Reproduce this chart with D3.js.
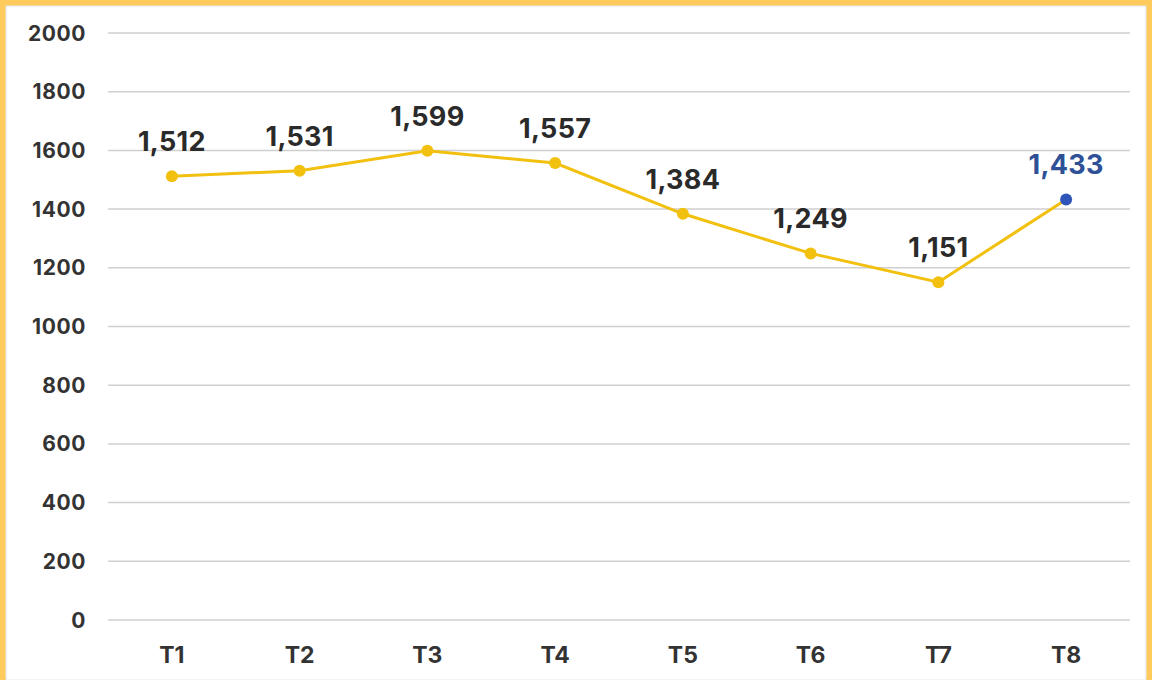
<!DOCTYPE html>
<html>
<head>
<meta charset="utf-8">
<script src="https://cdn.jsdelivr.net/npm/d3@7"></script>
<style>
  html, body { margin: 0; padding: 0; background: #fff; }
  svg { display: block; font-family: Inter, "Noto Sans", sans-serif; }
</style>
</head>
<body>
<div id="chart"></div>
<script>
// line chart T1..T8, last point highlighted
const categories = ['T1', 'T2', 'T3', 'T4', 'T5', 'T6', 'T7', 'T8'];
const values = [1512, 1531, 1599, 1557, 1384, 1249, 1151, 1433];
const yTicks = [0, 200, 400, 600, 800, 1000, 1200, 1400, 1600, 1800, 2000];

const width = 1152, height = 680;
const margin = { top: 33, right: 22, bottom: 60, left: 108 };

const svg = d3.select('#chart').append('svg')
  .attr('width', width).attr('height', height);

// frame
svg.append('rect').attr('x', 0).attr('y', 0).attr('width', width).attr('height', height).attr('fill', '#FFCB5C');
svg.append('rect').attr('x', 6).attr('y', 6).attr('width', width - 12).attr('height', height - 6)
  .attr('fill', '#fff').attr('stroke', '#e6e6e6').attr('stroke-width', 1);

const x = d3.scalePoint()
  .domain(categories)
  .range([margin.left, width - margin.right])
  .padding(0.5);

const y = d3.scaleLinear()
  .domain([0, 2000])
  .range([height - margin.bottom, margin.top]);

// grid
svg.append('g')
  .selectAll('line')
  .data(yTicks)
  .enter().append('line')
  .attr('x1', margin.left).attr('x2', width - margin.right)
  .attr('y1', d => y(d)).attr('y2', d => y(d))
  .attr('stroke', '#cfcfcf').attr('stroke-width', 1.5);

// y labels
svg.append('g')
  .selectAll('text')
  .data(yTicks)
  .enter().append('text')
  .attr('x', 86)
  .attr('y', d => y(d))
  .attr('dy', '0.36em')
  .attr('text-anchor', 'end')
  .attr('fill', '#333')
  .style('font-size', '21px')
  .style('font-weight', 700)
  .style('letter-spacing', '0.6px')
  .text(d => d);

// x labels
svg.append('g')
  .selectAll('text')
  .data(categories)
  .enter().append('text')
  .attr('x', d => x(d))
  .attr('y', 655)
  .attr('dy', '0.36em')
  .attr('text-anchor', 'middle')
  .attr('fill', '#333')
  .style('font-size', '23px')
  .style('font-weight', 700)
  .text(d => d);

const pts = categories.map((c, i) => ({ c, v: values[i], last: i === categories.length - 1 }));

svg.append('path')
  .datum(pts)
  .attr('fill', 'none')
  .attr('stroke', '#F2C00F')
  .attr('stroke-width', 3)
  .attr('d', d3.line().x(d => x(d.c)).y(d => y(d.v)));

svg.append('g')
  .selectAll('circle')
  .data(pts)
  .enter().append('circle')
  .attr('cx', d => x(d.c))
  .attr('cy', d => y(d.v))
  .attr('r', 6)
  .attr('fill', d => d.last ? '#2F55B8' : '#F2C00F');

svg.append('g')
  .selectAll('text')
  .data(pts)
  .enter().append('text')
  .attr('x', d => x(d.c))
  .attr('y', d => y(d.v) - 25)
  .attr('text-anchor', 'middle')
  .attr('fill', d => d.last ? '#2E5096' : '#2a2a2a')
  .style('font-size', '27px')
  .style('font-weight', 700)
  .style('letter-spacing', '0.3px')
  .text(d => d3.format(',')(d.v));
</script>
</body>
</html>
